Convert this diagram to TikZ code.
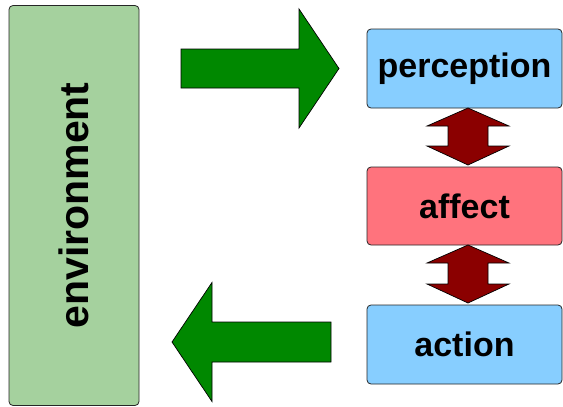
\documentclass[tikz,border=0pt]{standalone}
\usepackage{fontspec}
\setmainfont{Liberation Sans}
\usetikzlibrary{calc}

\definecolor{envgreen}{RGB}{165,209,158}
\definecolor{stageblue}{RGB}{135,206,255}
\definecolor{stagered}{RGB}{255,115,125}
\definecolor{flowgreen}{RGB}{0,136,0}
\definecolor{linkred}{RGB}{139,0,0}

\tikzset{
  box/.style={draw=black!85, rounded corners=4pt, line width=0.8pt,
    inner sep=0pt, outer sep=0pt,
    font=\bfseries\fontsize{34}{40}\selectfont},
  stagebox/.style={box, minimum width=195, minimum height=79},
  flow/.style={draw=black, fill=flowgreen, line width=0.7pt},
  link/.style={draw=black, fill=linkred, line width=0.7pt},
}

\begin{document}
\begin{tikzpicture}[x=1pt, y=-1pt]
  \useasboundingbox (0,0) rectangle (563,407);

  % environment (text runs bottom to top) and the three stages
  \node[box, fill=envgreen, minimum width=400, minimum height=130,
        font=\bfseries\fontsize{41}{48}\selectfont, rotate=90]
        (env) at (74,205.5) {environment};
  \node[stagebox, fill=stageblue] (perc) at (464.5,68.5) {perception};
  \node[stagebox, fill=stagered, minimum height=78] (aff) at (464.5,206) {affect};
  \node[stagebox, fill=stageblue] (act) at (464.5,344.5) {action};

  % input flow: environment -> perception
  \coordinate (intail) at (181,68.5);
  \coordinate (intip)  at (339,68.5);
  \draw[flow] ($(intail)+(0,-19.5)$) -- ($(intip)+(-40,-19.5)$)
    -- ($(intip)+(-40,-59.5)$) -- (intip) -- ($(intip)+(-40,59.5)$)
    -- ($(intip)+(-40,19.5)$) -- ($(intail)+(0,19.5)$) -- cycle;

  % output flow: action -> environment
  \coordinate (outtail) at (331,342);
  \coordinate (outtip)  at (172,342);
  \draw[flow] ($(outtail)+(0,-20)$) -- ($(outtip)+(40,-20)$)
    -- ($(outtip)+(40,-59.5)$) -- (outtip) -- ($(outtip)+(40,59.5)$)
    -- ($(outtip)+(40,20)$) -- ($(outtail)+(0,20)$) -- cycle;

  % two-way links between the stages
  \foreach \p/\q in {perc/aff, aff/act}{
    \coordinate (p) at ($(\p.south)+(3.5,0)$);
    \coordinate (q) at ($(\q.north)+(3.5,-2)$);
    \draw[link] (p) -- ($(p)+(41,18)$) -- ($(p)+(20,18)$)
      -- ($(q)+(20,-19)$) -- ($(q)+(41,-19)$) -- (q)
      -- ($(q)+(-41,-19)$) -- ($(q)+(-20,-19)$)
      -- ($(p)+(-20,18)$) -- ($(p)+(-41,18)$) -- cycle;
  }
\end{tikzpicture}
\end{document}
